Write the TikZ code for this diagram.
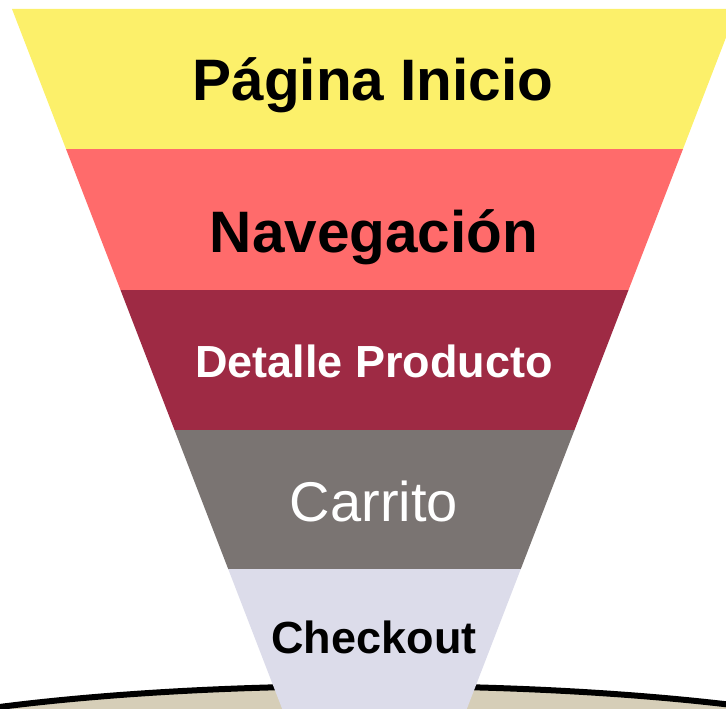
\documentclass[tikz,border=0pt]{standalone}
\usepackage{fontspec}
\setmainfont{Liberation Sans}
\definecolor{inicioY}{HTML}{FCF06A}
\definecolor{navegR}{HTML}{FF6B6B}
\definecolor{detalleR}{HTML}{9E2A44}
\definecolor{carritoG}{HTML}{7A7472}
\definecolor{checkoutL}{HTML}{DCDCEA}
\definecolor{sueloB}{HTML}{D6CEB8}

\begin{document}
\begin{tikzpicture}[x=1pt,y=-1pt,
  etapa/.style={anchor=base, inner sep=0pt}]
  \useasboundingbox (0,0) rectangle (726,709);
  \begin{scope}
  \clip (0,0) rectangle (726,709);
  % ground under the funnel
  \fill[sueloB] (374,782) ellipse (600 and 96);
  \draw[line width=6pt] (374,782) ellipse (600 and 96);
  % funnel bands
  \fill[inicioY] (12,9) -- (737,9) -- (683,149) -- (66,149) -- cycle;
  \fill[navegR] (66,149) -- (683,149) -- (628.5,290) -- (120.5,290) -- cycle;
  \fill[detalleR] (120.5,290) -- (628.5,290) -- (574.5,430) -- (174.5,430) -- cycle;
  \fill[carritoG] (174.5,430) -- (574.5,430) -- (520.8,569) -- (228.2,569) -- cycle;
  \fill[checkoutL] (228.2,569) -- (520.8,569) -- (466.8,709) -- (282.2,709) -- cycle;
  \end{scope}
  % labels
  \node[etapa, font=\bfseries\fontsize{58.5}{60}\selectfont] (inicio) at (373,100) {Página Inicio};
  \node[etapa, font=\bfseries\fontsize{58.5}{60}\selectfont] (navegacion) at (374,252) {Navegación};
  \node[etapa, font=\bfseries\fontsize{45}{50}\selectfont, text=white] (detalle) at (374,377) {Detalle Producto};
  \node[etapa, font=\fontsize{56}{60}\selectfont, text=white] (carrito) at (374,521) {Carrito};
  \node[etapa, font=\bfseries\fontsize{45}{50}\selectfont] (checkout) at (374,653) {Checkout};
\end{tikzpicture}
\end{document}
